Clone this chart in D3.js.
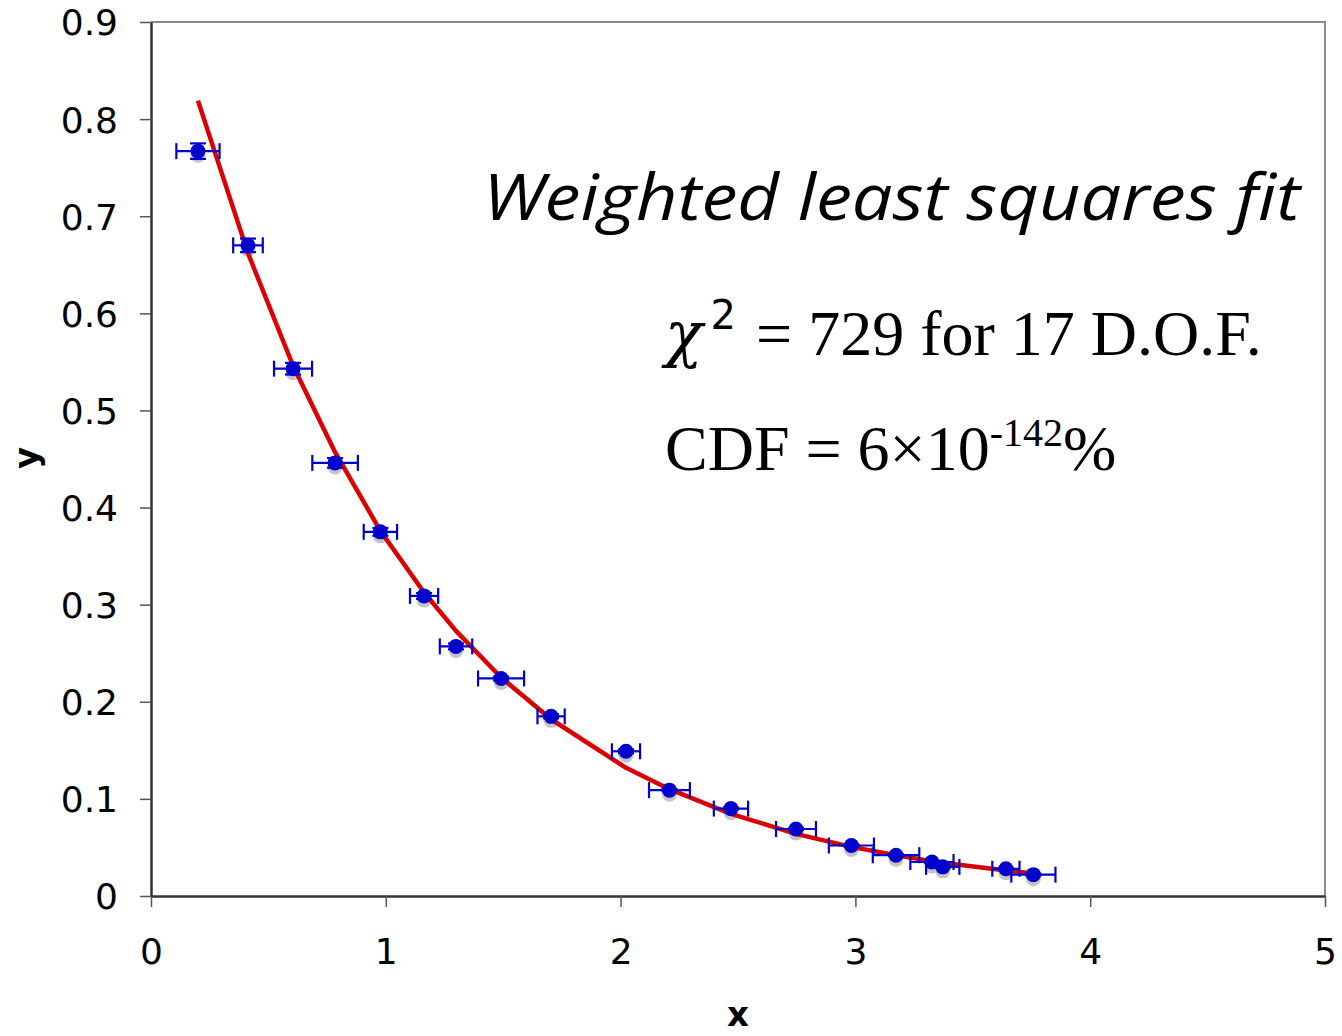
<!DOCTYPE html>
<html><head><meta charset="utf-8">
<script src="https://cdn.jsdelivr.net/npm/d3@7"></script>
<style>body{margin:0;background:#fff}</style>
</head><body>
<svg id="c" width="1342" height="1036"></svg>
<script>
const xData = [0.200,0.413,0.605,0.784,0.977,1.163,1.299,1.491,1.704,2.023,2.208,2.470,2.747,2.983,3.173,3.326,3.372,3.641,3.758];
const yData = [0.767,0.670,0.543,0.446,0.375,0.309,0.257,0.224,0.185,0.149,0.109,0.090,0.069,0.052,0.042,0.035,0.030,0.028,0.022];
const xErr  = [0.092,0.063,0.081,0.097,0.071,0.060,0.069,0.098,0.058,0.060,0.087,0.073,0.085,0.096,0.099,0.092,0.071,0.058,0.094];
const yErr  = [0.008,0.007,0.006,0.005,0.004,0.003,0.003,0.002,0.002,0.002,0.001,0.001,0.001,0.001,0.001,0.001,0.001,0.001,0.001];
const yFit  = [0.819,0.662,0.546,0.457,0.376,0.3125,0.273,0.225,0.182,0.132,0.110,0.0846,0.064,0.0506,0.0419,0.0359,0.0343,0.0262,0.0233];
const xTicks = [0,1,2,3,4,5];
const yTicks = [0,0.1,0.2,0.3,0.4,0.5,0.6,0.7,0.8,0.9];

const svg = d3.select("#c");
const x = d3.scaleLinear().domain([0,5]).range([151,1325]);
const y = d3.scaleLinear().domain([0,0.9]).range([896,22]);
const font = "'DejaVu Sans', Verdana, sans-serif";

// frame top & right
svg.append("path").attr("d",`M${x(0)},${y(0.9)}H${x(5)}V${y(0)}`)
  .attr("fill","none").attr("stroke","#8a8a8a").attr("stroke-width",2);

// axes
const xAxis = svg.append("g").attr("transform",`translate(0,${y(0)})`)
  .call(d3.axisBottom(x).tickValues(xTicks).tickFormat(d3.format("d")).tickSizeOuter(0).tickSizeInner(11).tickPadding(31));
const yAxis = svg.append("g").attr("transform",`translate(${x(0)},0)`)
  .call(d3.axisLeft(y).tickValues(yTicks).tickFormat(d=>d===0?"0":d3.format(".1f")(d)).tickSizeOuter(0).tickSizeInner(11).tickPadding(22));
[xAxis,yAxis].forEach(g=>{
  g.select(".domain").attr("stroke","#333").attr("stroke-width",2.5);
  g.selectAll(".tick line").attr("stroke","#555").attr("stroke-width",1.5);
  g.selectAll("text").attr("font-family",font).attr("font-size",36).attr("fill","#000");
});
yAxis.selectAll("text").attr("dy","0.36em");

// axis titles
svg.append("text").attr("x",738).attr("y",1026).attr("text-anchor","middle")
  .attr("font-family",font).attr("font-weight","bold").attr("font-size",34).text("x");
svg.append("text").attr("transform","translate(38,458) rotate(-90)").attr("text-anchor","middle")
  .attr("font-family",font).attr("font-weight","bold").attr("font-size",34).text("y");

// shadows
svg.append("g").selectAll("circle").data(xData).join("circle")
  .attr("cx",(d)=>x(d)).attr("cy",(d,i)=>y(yData[i])+4).attr("r",7.5).attr("fill","#c4c4c4");

// fit line
const line = d3.line().x((d,i)=>x(xData[i])).y(d=>y(d));
svg.append("path").datum(yFit).attr("d",line).attr("fill","none")
  .attr("stroke","#dd0000").attr("stroke-width",4.5).attr("stroke-linejoin","round");

// error bars
const eb = svg.append("g").attr("stroke","#0000cc").attr("stroke-width",2.2).attr("fill","none");
xData.forEach((xv,i)=>{
  const yv=yData[i], cy=y(yv);
  eb.append("line").attr("x1",x(xv-xErr[i])).attr("x2",x(xv+xErr[i])).attr("y1",cy).attr("y2",cy);
  eb.append("line").attr("x1",x(xv-xErr[i])).attr("x2",x(xv-xErr[i])).attr("y1",cy-8).attr("y2",cy+8);
  eb.append("line").attr("x1",x(xv+xErr[i])).attr("x2",x(xv+xErr[i])).attr("y1",cy-8).attr("y2",cy+8);
  eb.append("line").attr("x1",x(xv)).attr("x2",x(xv)).attr("y1",y(yv+yErr[i])).attr("y2",y(yv-yErr[i]));
  eb.append("line").attr("x1",x(xv)-8).attr("x2",x(xv)+8).attr("y1",y(yv+yErr[i])).attr("y2",y(yv+yErr[i]));
  eb.append("line").attr("x1",x(xv)-8).attr("x2",x(xv)+8).attr("y1",y(yv-yErr[i])).attr("y2",y(yv-yErr[i]));
});

// dots
svg.append("g").selectAll("circle").data(xData).join("circle")
  .attr("cx",(d)=>x(d)).attr("cy",(d,i)=>y(yData[i])).attr("r",7.5).attr("fill","#0000cc");

// annotations
svg.append("text").attr("x",483).attr("y",220).attr("font-family","'Open Sans', 'DejaVu Sans', sans-serif")
  .attr("font-style","italic").attr("font-size",64).attr("textLength",817).attr("lengthAdjust","spacingAndGlyphs").text("Weighted least squares fit");

const serif = "'Liberation Serif', 'Times New Roman', serif";
const t1 = svg.append("text").attr("x",665).attr("y",355).attr("font-family",serif).attr("font-size",64);
t1.append("tspan").attr("font-style","italic").attr("font-family","'DejaVu Serif', serif").attr("font-size",62).text("χ");
t1.append("tspan").attr("dy",-26).attr("dx",8).attr("font-family","'DejaVu Sans', sans-serif").attr("font-size",40).text("2");
t1.append("tspan").attr("dy",26).attr("dx",4).text(" = 729 for 17 D.O.F.");

const t2 = svg.append("text").attr("x",665).attr("y",470).attr("font-family",serif).attr("font-size",64);
t2.append("tspan").text("CDF = 6×10");
t2.append("tspan").attr("dy",-24).attr("font-size",40).text("-142");
t2.append("tspan").attr("dy",24).text("%");
</script>
</body></html>
